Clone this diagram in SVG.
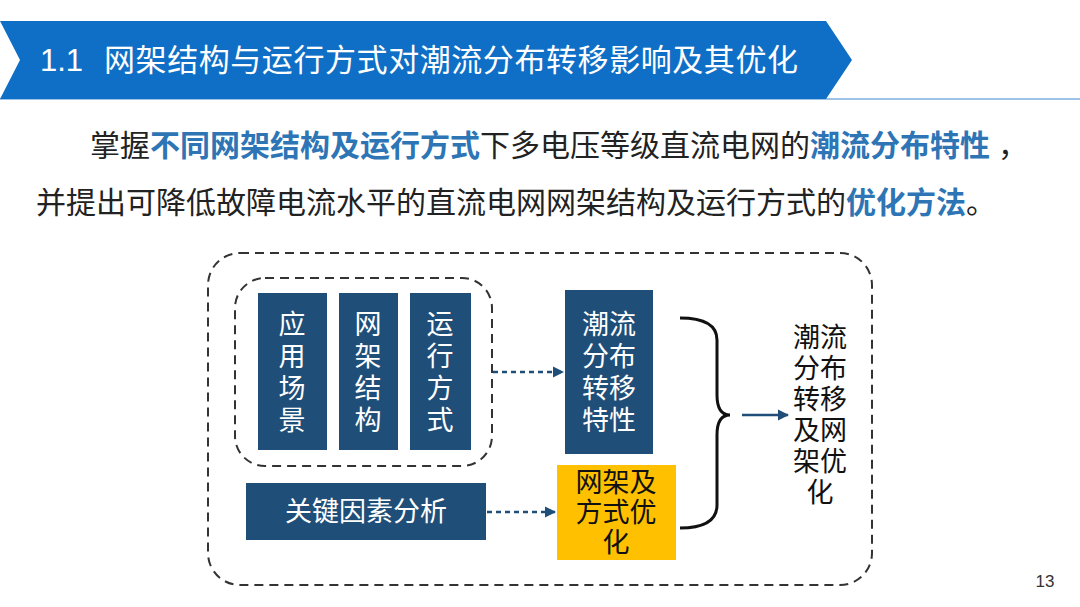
<svg xmlns="http://www.w3.org/2000/svg" width="1080" height="607" viewBox="0 0 1080 607">
<style>
.t{font-family:"Liberation Sans","Noto Sans CJK SC",sans-serif}
.box{fill:#1f4e79}
.wt{fill:#fff;font-size:27px;text-anchor:middle;font-family:"Liberation Sans","Noto Sans CJK SC",sans-serif}
.dash{fill:none;stroke:#333;stroke-width:2;stroke-dasharray:9 6}
.con{stroke:#1f4e79;stroke-width:2.5;fill:none}
.hl{fill:#2e75b6;font-weight:bold}
</style>
<defs><marker id="ah" viewBox="0 0 10 10" refX="9" refY="5" markerWidth="4.5" markerHeight="4.5" orient="auto"><path d="M0,0L10,5L0,10z" fill="#1f4e79"/></marker></defs>
<rect width="1080" height="607" fill="#fff"/>
<g id="title">
<line x1="0" y1="99" x2="1080" y2="99" stroke="#9dc3e6" stroke-width="2"/>
<polygon points="0,21 826,21 852,60 826,99 0,99 20,60" fill="#0f6fc6"/>
<text class="t" font-size="31" fill="#fff"><tspan x="40" y="71">1.1</tspan><tspan x="104" y="71" textLength="694" lengthAdjust="spacing">网架结构与运行方式对潮流分布转移影响及其优化</tspan></text>
</g>
<g id="intro" class="t" font-size="30" fill="#222">
<text x="90" y="156">掌握<tspan class="hl">不同网架结构及运行方式</tspan>下多电压等级直流电网的<tspan class="hl">潮流分布特性</tspan><tspan dx="8">，</tspan></text>
<text x="36" y="213">并提出可降低故障电流水平的直流电网网架结构及运行方式的<tspan class="hl">优化方法</tspan>。</text>
</g>
<rect id="outer" class="dash" x="208" y="253" width="664" height="332" rx="32"/>
<rect id="inner" class="dash" x="235" y="278" width="257" height="188" rx="30"/>
<g id="n1"><rect class="box" x="258" y="293" width="69" height="157"/><text class="wt"><tspan x="292" y="334">应</tspan><tspan x="292" y="366">用</tspan><tspan x="292" y="398">场</tspan><tspan x="292" y="430">景</tspan></text></g>
<g id="n2"><rect class="box" x="339" y="293" width="59" height="157"/><text class="wt"><tspan x="368" y="334">网</tspan><tspan x="368" y="366">架</tspan><tspan x="368" y="398">结</tspan><tspan x="368" y="430">构</tspan></text></g>
<g id="n3"><rect class="box" x="410" y="293" width="61" height="157"/><text class="wt"><tspan x="440" y="334">运</tspan><tspan x="440" y="366">行</tspan><tspan x="440" y="398">方</tspan><tspan x="440" y="430">式</tspan></text></g>
<g id="n4"><rect class="box" x="565" y="290" width="88" height="164"/><text class="wt"><tspan x="609" y="334">潮流</tspan><tspan x="609" y="366">分布</tspan><tspan x="609" y="398">转移</tspan><tspan x="609" y="430">特性</tspan></text></g>
<g id="n5"><rect class="box" x="246" y="483" width="240" height="57"/><text class="wt" x="366" y="521">关键因素分析</text></g>
<g id="n6"><rect x="557" y="465" width="119" height="95" fill="#ffc000"/><text class="t" font-size="27" fill="#111" text-anchor="middle"><tspan x="616" y="492">网架及</tspan><tspan x="616" y="522">方式优</tspan><tspan x="616" y="552">化</tspan></text></g>
<g id="n7"><text class="t" font-size="27" fill="#111" text-anchor="middle"><tspan x="820" y="347">潮流</tspan><tspan x="820" y="378">分布</tspan><tspan x="820" y="409">转移</tspan><tspan x="820" y="440">及网</tspan><tspan x="820" y="471">架优</tspan><tspan x="820" y="502">化</tspan></text></g>
<g id="connectors">
<line class="con" x1="493" y1="372" x2="563" y2="372" stroke-dasharray="5 4" marker-end="url(#ah)"/>
<line class="con" x1="487" y1="512" x2="555" y2="512" stroke-dasharray="5 4" marker-end="url(#ah)"/>
<path d="M680,318 Q717,318 717,340 L717,395 Q717,415 730,415 Q717,415 717,435 L717,505 Q717,528 680,528" fill="none" stroke="#111" stroke-width="3"/>
<line class="con" x1="742" y1="415" x2="788" y2="415" marker-end="url(#ah)"/>
</g>
<text x="1045" y="587" class="t" font-size="17" fill="#333" text-anchor="middle">13</text>
</svg>
